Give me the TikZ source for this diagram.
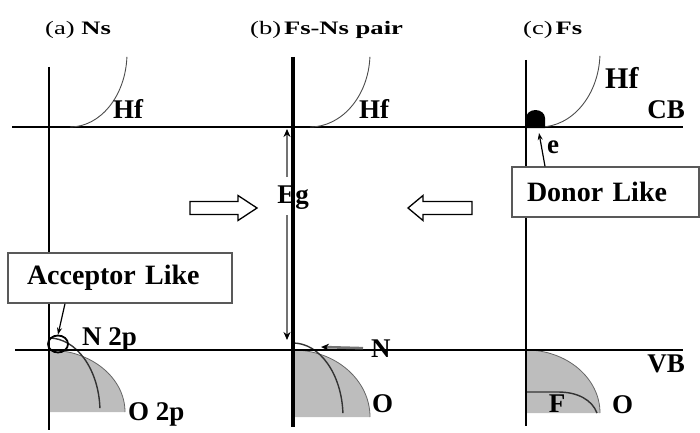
\documentclass[tikz,border=0pt]{standalone}
\usepackage{fontspec}
\setmainfont{Liberation Serif}
\usetikzlibrary{arrows.meta,shapes.geometric}
\begin{document}
\begin{tikzpicture}[x=1pt,y=1pt,
  band/.style={line width=2.8pt},
  lbl/.style={font=\fontsize{27}{30}\selectfont\bfseries, inner sep=0pt},
  ttl/.style={font=\fontsize{19}{22}\selectfont, inner sep=0pt, anchor=base west},
  hfcurve/.style={line width=0.9pt, black!70},
  shade/.style={fill=black!26},
  edgec/.style={line width=0.8pt, black!60},
  innerc/.style={line width=1.4pt, black!80},
  lbox/.style={draw=black!65, line width=1.3pt, fill=white, minimum height=50pt, inner sep=0pt, align=left, font=\fontsize{28}{30}\selectfont\bfseries},
  thinarr/.style={line width=1.2pt, -{Stealth[length=7pt,width=5pt]}},
  grayarr/.style={draw=black!55, line width=2.6pt, -{Stealth[length=8pt,width=7pt,color=black]}},
  hollow/.style={draw, line width=1.3pt, fill=white}
]
\useasboundingbox (0,0) rectangle (700,432);

% valence band shading
\fill[shade] (49,20) -- (49,82) arc[start angle=90,end angle=0,x radius=76,y radius=62] -- cycle;
\draw[edgec] (49,82) arc[start angle=90,end angle=0,x radius=76,y radius=62];
\fill[shade] (293,15) -- (293,82) arc[start angle=90,end angle=0,x radius=77,y radius=67] -- cycle;
\draw[edgec] (293,82) arc[start angle=90,end angle=0,x radius=77,y radius=67];
\fill[shade] (526,19) -- (526,82) arc[start angle=90,end angle=0,x radius=74,y radius=63] -- cycle;
\draw[edgec] (526,82) arc[start angle=90,end angle=0,x radius=74,y radius=63];

% inner bands
\draw[innerc] (49,94) arc[start angle=90,end angle=3,x radius=51,y radius=74];
\draw[innerc] (293,89) arc[start angle=90,end angle=3,x radius=50,y radius=74];
\draw[innerc] (526,40) -- (558,40) .. controls (578,40) and (592,32) .. (597,19);

% CB and VB
\draw[band] (12,305) -- (683,305);
\draw[band] (15,82) -- (683,82);

% vertical axes
\draw[band] (49,365) -- (49,2);
\draw[line width=3.3pt] (293,375) -- (293,5);
\draw[band] (526,372) -- (526,6);

% Hf curves
\draw[hfcurve] (70,305) arc[start angle=-90,end angle=-3,x radius=57,y radius=74];
\draw[hfcurve] (310,305) arc[start angle=-90,end angle=-3,x radius=60,y radius=74];
\draw[hfcurve] (540,305) arc[start angle=-90,end angle=-3,x radius=60,y radius=75];

% donor electron
\fill (526,304) -- (526,314) arc[start angle=180,end angle=0,x radius=9.5,y radius=8] -- (545,304) -- cycle;

% acceptor hole
\node[draw, ellipse, line width=1.8pt, minimum width=20pt, minimum height=17pt, inner sep=0pt] (hole) at (58,88) {};

% titles
\node[ttl] (ta) at (45,397) {\scalebox{1.4}[1]{(a) \textbf{Ns}}};
\node[ttl] (tb) at (250,397) {\scalebox{1.4}[1]{(b)\hspace{2pt}\textbf{Fs-Ns pair}}};
\node[ttl] (tc) at (523,397) {\scalebox{1.4}[1]{(c)\hspace{2pt}\textbf{Fs}}};

% labels
\node[lbl, anchor=base west] (hfa) at (113,314) {Hf};
\node[lbl, anchor=base west] (hfb) at (359,314) {Hf};
\node[lbl, anchor=base west, font=\fontsize{30}{32}\selectfont\bfseries] (hfc) at (605,344) {Hf};
\node[lbl, anchor=base east] (cb) at (685,314) {CB};
\node[lbl, anchor=base east] (vb) at (685,60) {VB};
\node[lbl, anchor=base west] (n2p) at (82,87) {N 2p};
\node[lbl, anchor=base west] (o2p) at (128,12) {O 2p};
\node[lbl, anchor=base west] (nb) at (371,75) {N};
\node[lbl, anchor=base west] (ob) at (372,20) {O};
\node[lbl, anchor=base] (fc) at (557,20) {F};
\node[lbl, anchor=base west] (oc) at (612,19) {O};
\node[lbl, anchor=base west] (el) at (547,279) {e};
\node[lbl, anchor=base] (eg) at (293,229) {Eg};

% boxes
\node[lbox, minimum width=224pt, text width=186pt] (acc) at (120,154) {Acceptor Like};
\node[lbox, minimum width=187pt, text width=157pt] (don) at (605.5,240) {Donor Like};

% Eg arrows
\coordinate (egtop) at (287,303);
\coordinate (egbot) at (287,92);
\draw[grayarr] ([yshift=8pt]eg.north -| egtop) -- (egtop);
\draw[grayarr] ([yshift=-6pt]eg.south -| egbot) -- (egbot);

% N arrow
\coordinate (ntip) at (321,85);
\draw[grayarr] ([xshift=-8pt]nb.west) -- (ntip);

% box arrows
\draw[thinarr] ([xshift=-55pt]acc.south) -- (hole.north);
\coordinate (etip) at (539,299);
\draw[thinarr] ([xshift=-60.5pt]don.north) -- (etip);

% hollow arrows
\draw[hollow] (190,217.5) -- (238,217.5) -- (238,211.5) -- (257,224) -- (238,236.5) -- (238,230.5) -- (190,230.5) -- cycle;
\draw[hollow] (472,217.5) -- (423,217.5) -- (423,211.5) -- (408,224) -- (423,236.5) -- (423,230.5) -- (472,230.5) -- cycle;
\end{tikzpicture}
\end{document}
